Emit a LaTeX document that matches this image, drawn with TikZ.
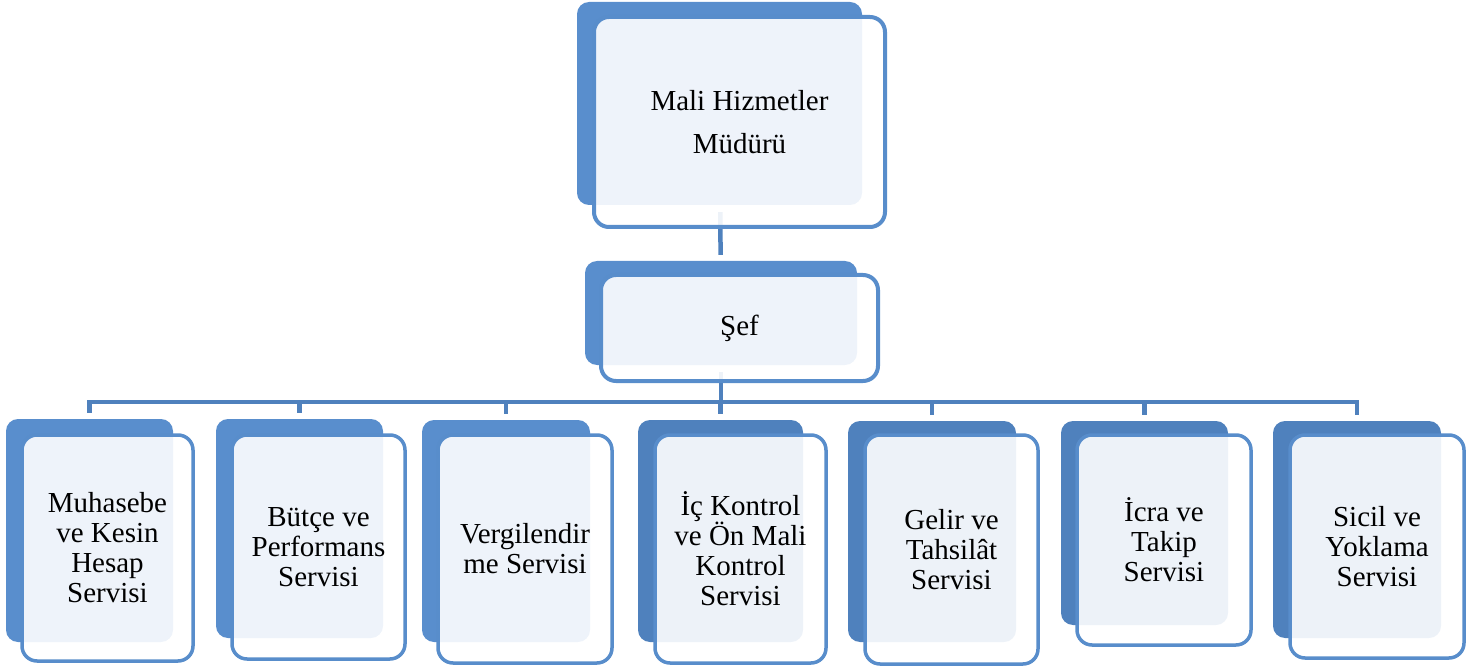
\documentclass[tikz,border=0pt]{standalone}
\usepackage{fontspec}
\setmainfont{Liberation Serif}
\usetikzlibrary{backgrounds}
\definecolor{arkaA}{RGB}{89,142,205}
\definecolor{arkaB}{RGB}{79,129,189}
\definecolor{kenar}{RGB}{88,141,203}
\definecolor{hatrengi}{RGB}{79,129,189}
\begin{document}
\begin{tikzpicture}[x=1pt, y=-1pt,
    % Stiller
    arka/.style={
        fill=#1, rounded corners=12pt, inner sep=0pt
    },
    kutu/.style={
        draw=kenar, line width=3.5pt, rounded corners=15pt,
        fill=white, fill opacity=0.9, text opacity=1, inner sep=0pt,
        align=center, font=\fontsize{29}{30}\selectfont
    },
    hat/.style={
        draw=hatrengi, line width=4.5pt
    }
]
\useasboundingbox (0,0) rectangle (1481,671);

% =============================================
% MÜDÜR
% =============================================
\node[arka=arkaA, minimum width=285pt, minimum height=203pt] (mudurbg) at (719.5,103.5) {};
\node[kutu, line width=4pt, minimum width=291pt, minimum height=210pt,
      font=\fontsize{29}{43}\selectfont] (mudur) at (739.5,122) {Mali Hizmetler\\Müdürü};

% =============================================
% ŞEF
% =============================================
\node[arka=arkaA, minimum width=272pt, minimum height=104pt] (sefbg) at (721,313) {};
\node[kutu, line width=4pt, minimum width=277pt, minimum height=106pt] (sef) at (739.5,328) {Şef};

% =============================================
% SERVİSLER (alt sıra)
% =============================================
\node[arka=arkaA, minimum width=167pt, minimum height=223pt] (muhasebebg) at (89.5,530.5) {};
\node[kutu, minimum width=171pt, minimum height=226pt] (muhasebe) at (107.5,548) {Muhasebe\\ve Kesin\\Hesap\\Servisi};

\node[arka=arkaA, minimum width=167pt, minimum height=219pt] (butcebg) at (299.5,528.5) {};
\node[kutu, minimum width=173pt, minimum height=224pt] (butce) at (318.5,547) {Bütçe ve\\Performans\\Servisi};

\node[arka=arkaA, minimum width=168pt, minimum height=222pt] (vergibg) at (506,531) {};
\node[kutu, minimum width=174pt, minimum height=228pt] (vergi) at (525,549) {Vergilendir\\me Servisi};

\node[arka=arkaB, minimum width=165pt, minimum height=222pt] (ickontrolbg) at (720.5,531) {};
\node[kutu, minimum width=171pt, minimum height=228pt] (ickontrol) at (740.5,549) {İç Kontrol\\ve Ön Mali\\Kontrol\\Servisi};

\node[arka=arkaB, minimum width=168pt, minimum height=221pt] (gelirbg) at (932,531.5) {};
\node[kutu, minimum width=173pt, minimum height=229pt] (gelir) at (951.5,549.5) {Gelir ve\\Tahsilât\\Servisi};

\node[arka=arkaB, minimum width=167pt, minimum height=204pt] (icrabg) at (1144.5,523) {};
\node[kutu, minimum width=174pt, minimum height=210pt] (icra) at (1164,540) {İcra ve\\Takip\\Servisi};

\node[arka=arkaB, minimum width=168pt, minimum height=217pt] (sicilbg) at (1357,529.5) {};
\node[kutu, minimum width=174pt, minimum height=223pt] (sicil) at (1377,546.5) {Sicil ve\\Yoklama\\Servisi};

% =============================================
% BAĞLANTILAR (kutuların arkasında)
% =============================================
\begin{scope}[on background layer]
\coordinate (bus) at (721,402);
\draw[hat, shorten <=7pt, shorten >=6pt] (mudurbg) -- (sefbg);
\draw[hat, shorten <=7pt] (sefbg) -- (bus);
\foreach \s in {muhasebebg, butcebg, vergibg, ickontrolbg, gelirbg, icrabg, sicilbg}
    \draw[hat, shorten >=6pt] (bus) -| (\s);
\end{scope}

\end{tikzpicture}
\end{document}
